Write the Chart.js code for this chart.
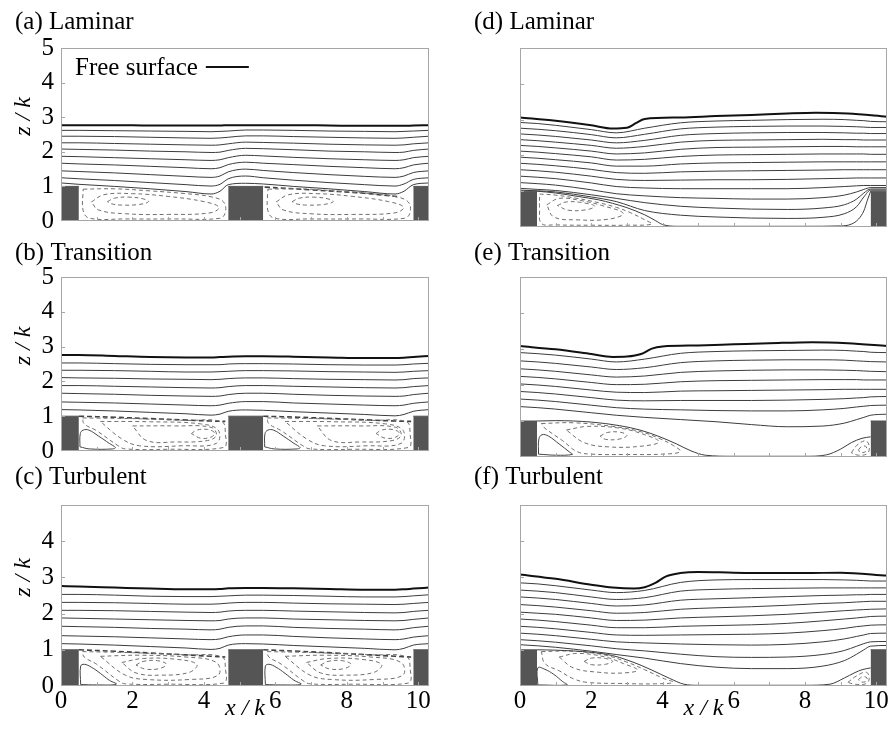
<!DOCTYPE html>
<html>
<head>
<meta charset="utf-8">
<script src="https://cdn.jsdelivr.net/npm/chart.js@4.4.0/dist/chart.umd.min.js"></script>
<style>
  body { margin: 0; background: #fff; width: 892px; height: 730px; position: relative; overflow: hidden; }
  canvas { position: absolute; }
</style>
</head>
<body>
<canvas id="ca" width="445" height="236" style="left:0;top:7px"></canvas>
<canvas id="cb" width="445" height="235" style="left:0;top:238px"></canvas>
<canvas id="cc" width="445" height="268" style="left:0;top:462px"></canvas>
<canvas id="cd" width="446" height="236" style="left:446px;top:7px"></canvas>
<canvas id="ce" width="446" height="235" style="left:446px;top:238px"></canvas>
<canvas id="cf" width="446" height="268" style="left:446px;top:462px"></canvas>
<script>
// x / k sample positions, element height k = 1
var xLeft  = [0, 0.5, 1.5, 2.5, 3.5, 4.2, 4.45, 4.68, 5.17, 5.66, 6.5, 7.5, 8.5, 9.35, 9.6, 9.86, 10.3];
var xRight = [0, 0.5, 1, 2, 2.7, 3.5, 4.5, 5.5, 6.5, 7.5, 8.5, 9.1, 9.45, 9.65, 9.84, 10.3];
var blocksLeft  = [[0, 0.5], [4.68, 5.66], [9.86, 10.3]];
var blocksRight = [[0, 0.48], [9.84, 10.3]];
var xTickVals = [0, 2, 4, 6, 8, 10];
var yTicks5 = [0, 1, 2, 3, 4, 5];
var yTicks4 = [0, 1, 2, 3, 4];
var minorX = [1, 2, 3, 4, 5, 6, 7, 8, 9, 10];
var minorY = [1, 2, 3, 4];

// (a) Laminar, two elements
var aSurf = [2.77, 2.77, 2.77, 2.76, 2.76, 2.76, 2.76, 2.77, 2.77, 2.77, 2.77, 2.76, 2.75, 2.75, 2.75, 2.76, 2.77];
var aLines = [
  [2.62, 2.62, 2.61, 2.60, 2.59, 2.58, 2.59, 2.60, 2.63, 2.63, 2.62, 2.60, 2.59, 2.58, 2.59, 2.60, 2.62],
  [2.45, 2.45, 2.44, 2.42, 2.40, 2.39, 2.40, 2.42, 2.46, 2.46, 2.44, 2.42, 2.40, 2.39, 2.40, 2.42, 2.45],
  [2.26, 2.26, 2.24, 2.22, 2.20, 2.19, 2.20, 2.23, 2.28, 2.27, 2.25, 2.22, 2.20, 2.19, 2.20, 2.23, 2.26],
  [2.08, 2.07, 2.05, 2.02, 2.00, 1.98, 1.99, 2.04, 2.10, 2.09, 2.06, 2.02, 2.00, 1.98, 1.99, 2.04, 2.08],
  [1.87, 1.86, 1.83, 1.80, 1.77, 1.75, 1.77, 1.83, 1.90, 1.88, 1.84, 1.80, 1.77, 1.75, 1.77, 1.83, 1.87],
  [1.67, 1.65, 1.62, 1.58, 1.54, 1.51, 1.54, 1.63, 1.70, 1.67, 1.63, 1.58, 1.54, 1.51, 1.54, 1.62, 1.67],
  [1.45, 1.43, 1.39, 1.34, 1.29, 1.26, 1.30, 1.42, 1.50, 1.46, 1.40, 1.34, 1.29, 1.26, 1.30, 1.40, 1.45],
  [1.25, 1.22, 1.17, 1.11, 1.05, 1.01, 1.06, 1.22, 1.30, 1.25, 1.18, 1.11, 1.05, 1.01, 1.07, 1.20, 1.25],
  [1.10, 1.06, 1.00, 0.93, 0.85, 0.78, 0.86, 1.05, 1.09, 1.07, 1.00, 0.93, 0.85, 0.78, 0.86, 1.05, 1.10]
];
var aDashed = [
  [[0.62,0.92],[1.5,0.93],[2.5,0.87],[3.5,0.79],[4.2,0.7],[4.55,0.55],[4.6,0.25],[4.45,0.08],[3.2,0.06],[1.8,0.06],[0.8,0.08],[0.62,0.3],[0.62,0.92]],
  [[0.85,0.55],[1.2,0.76],[2.0,0.79],[3.0,0.71],[4.0,0.56],[4.42,0.4],[4.2,0.24],[3.0,0.19],[1.8,0.21],[1.05,0.32],[0.85,0.55]],
  [[1.3,0.56],[1.5,0.66],[1.9,0.69],[2.3,0.64],[2.45,0.56],[2.2,0.48],[1.7,0.46],[1.4,0.5],[1.3,0.56]],
  [[5.79,0.92],[6.67,0.93],[7.67,0.87],[8.67,0.79],[9.37,0.7],[9.72,0.55],[9.77,0.25],[9.62,0.08],[8.37,0.06],[6.97,0.06],[5.97,0.08],[5.79,0.3],[5.79,0.92]],
  [[6.02,0.55],[6.37,0.76],[7.17,0.79],[8.17,0.71],[9.17,0.56],[9.59,0.4],[9.37,0.24],[8.17,0.19],[6.97,0.21],[6.22,0.32],[6.02,0.55]],
  [[6.47,0.56],[6.67,0.66],[7.07,0.69],[7.47,0.64],[7.62,0.56],[7.37,0.48],[6.87,0.46],[6.57,0.5],[6.47,0.56]]
];
var aBold = [[[5.7,0.98],[7.0,0.9],[8.5,0.8],[9.5,0.7]]];

// (b) Transition, two elements
var bSurf = [2.76, 2.76, 2.73, 2.70, 2.69, 2.69, 2.70, 2.71, 2.72, 2.72, 2.71, 2.69, 2.67, 2.67, 2.68, 2.70, 2.73];
var bLines = [
  [2.53, 2.53, 2.51, 2.49, 2.48, 2.48, 2.48, 2.50, 2.51, 2.51, 2.50, 2.48, 2.47, 2.47, 2.48, 2.50, 2.52],
  [2.32, 2.32, 2.31, 2.29, 2.27, 2.27, 2.28, 2.29, 2.31, 2.31, 2.30, 2.28, 2.27, 2.26, 2.27, 2.29, 2.31],
  [2.11, 2.10, 2.09, 2.07, 2.06, 2.05, 2.06, 2.08, 2.10, 2.10, 2.08, 2.06, 2.05, 2.04, 2.05, 2.08, 2.10],
  [1.88, 1.88, 1.86, 1.84, 1.82, 1.81, 1.82, 1.85, 1.88, 1.88, 1.86, 1.84, 1.82, 1.81, 1.82, 1.85, 1.88],
  [1.66, 1.65, 1.63, 1.60, 1.58, 1.57, 1.58, 1.62, 1.66, 1.66, 1.63, 1.60, 1.58, 1.57, 1.58, 1.62, 1.66],
  [1.41, 1.40, 1.38, 1.35, 1.32, 1.30, 1.32, 1.37, 1.42, 1.42, 1.38, 1.35, 1.32, 1.30, 1.32, 1.37, 1.41],
  [1.19, 1.18, 1.15, 1.11, 1.07, 1.03, 1.06, 1.14, 1.18, 1.17, 1.13, 1.09, 1.05, 1.01, 1.05, 1.14, 1.19]
];
var bSolid = [
  [[0.53,0.12],[0.54,0.5],[0.62,0.6],[0.78,0.6],[1.05,0.43],[1.35,0.22],[1.52,0.1],[1.45,0.06],[0.8,0.06],[0.53,0.12]],
  [[5.70,0.12],[5.71,0.5],[5.79,0.6],[5.95,0.6],[6.22,0.43],[6.52,0.22],[6.69,0.1],[6.62,0.06],[5.97,0.06],[5.70,0.12]]
];
var bDashed = [
  [[0.6,0.95],[2.0,0.93],[3.5,0.88],[4.5,0.84],[4.6,0.5],[4.55,0.1],[3.0,0.05],[1.8,0.06],[1.6,0.15],[1.0,0.58],[0.65,0.78],[0.6,0.95]],
  [[1.1,0.85],[2.5,0.84],[3.9,0.78],[4.4,0.6],[4.35,0.22],[3.4,0.15],[2.2,0.15],[1.7,0.35],[1.1,0.85]],
  [[2.0,0.72],[3.2,0.72],[4.2,0.68],[4.35,0.45],[4.1,0.3],[3.2,0.26],[2.4,0.3],[2.0,0.72]],
  [[3.65,0.5],[3.8,0.6],[4.1,0.62],[4.3,0.52],[4.2,0.4],[3.9,0.37],[3.65,0.5]],
  [[5.77,0.95],[7.17,0.93],[8.67,0.88],[9.67,0.84],[9.77,0.5],[9.72,0.1],[8.17,0.05],[6.97,0.06],[6.77,0.15],[6.17,0.58],[5.82,0.78],[5.77,0.95]],
  [[6.27,0.85],[7.67,0.84],[9.07,0.78],[9.57,0.6],[9.52,0.22],[8.57,0.15],[7.37,0.15],[6.87,0.35],[6.27,0.85]],
  [[7.17,0.72],[8.37,0.72],[9.37,0.68],[9.52,0.45],[9.27,0.3],[8.37,0.26],[7.57,0.3],[7.17,0.72]],
  [[8.82,0.5],[8.97,0.6],[9.27,0.62],[9.47,0.52],[9.37,0.4],[9.07,0.37],[8.82,0.5]]
];
var bBold = [
  [[0.5,1.0],[1.5,0.97],[2.5,0.93],[3.5,0.89],[4.2,0.86],[4.6,0.85]],
  [[5.66,1.0],[6.66,0.97],[7.66,0.93],[8.66,0.89],[9.36,0.86],[9.8,0.85]]
];

// (c) Turbulent, two elements
var cSurf = [2.76, 2.75, 2.72, 2.69, 2.67, 2.67, 2.68, 2.70, 2.71, 2.71, 2.70, 2.68, 2.66, 2.66, 2.67, 2.69, 2.72];
var cLines = [
  [2.53, 2.53, 2.51, 2.48, 2.47, 2.47, 2.48, 2.49, 2.51, 2.51, 2.50, 2.48, 2.46, 2.46, 2.47, 2.49, 2.52],
  [2.31, 2.31, 2.30, 2.28, 2.26, 2.26, 2.27, 2.29, 2.31, 2.31, 2.29, 2.27, 2.26, 2.25, 2.26, 2.28, 2.31],
  [2.09, 2.09, 2.08, 2.06, 2.04, 2.03, 2.04, 2.07, 2.09, 2.09, 2.07, 2.05, 2.03, 2.02, 2.03, 2.06, 2.09],
  [1.88, 1.87, 1.85, 1.83, 1.81, 1.80, 1.81, 1.85, 1.88, 1.88, 1.85, 1.83, 1.81, 1.80, 1.81, 1.84, 1.88],
  [1.65, 1.64, 1.62, 1.59, 1.57, 1.55, 1.57, 1.62, 1.66, 1.66, 1.62, 1.59, 1.57, 1.55, 1.57, 1.61, 1.65],
  [1.39, 1.38, 1.36, 1.33, 1.30, 1.28, 1.30, 1.36, 1.41, 1.41, 1.37, 1.33, 1.30, 1.28, 1.30, 1.35, 1.39],
  [1.17, 1.16, 1.13, 1.09, 1.05, 1.01, 1.04, 1.13, 1.17, 1.16, 1.12, 1.08, 1.04, 1.00, 1.04, 1.13, 1.17]
];
var cSolid = [
  [[0.55,0.04],[0.55,0.55],[0.65,0.6],[0.85,0.52],[1.1,0.35],[1.35,0.16],[1.55,0.05],[1.0,0.03],[0.55,0.04]],
  [[5.72,0.04],[5.72,0.55],[5.82,0.6],[6.02,0.52],[6.27,0.35],[6.52,0.16],[6.72,0.05],[6.17,0.03],[5.72,0.04]]
];
var cDashed = [
  [[0.6,0.95],[2.0,0.92],[3.5,0.86],[4.5,0.81],[4.6,0.5],[4.55,0.08],[3.0,0.05],[1.8,0.06],[1.6,0.15],[1.0,0.6],[0.65,0.8],[0.6,0.95]],
  [[1.1,0.82],[2.2,0.85],[3.5,0.8],[4.35,0.65],[4.4,0.3],[3.6,0.18],[2.4,0.18],[1.8,0.3],[1.1,0.82]],
  [[1.7,0.65],[2.3,0.76],[3.2,0.74],[3.8,0.6],[3.6,0.38],[2.8,0.3],[2.1,0.36],[1.7,0.65]],
  [[2.1,0.58],[2.3,0.68],[2.7,0.7],[2.95,0.6],[2.75,0.48],[2.35,0.47],[2.1,0.58]],
  [[5.77,0.95],[7.17,0.92],[8.67,0.86],[9.67,0.81],[9.77,0.5],[9.72,0.08],[8.17,0.05],[6.97,0.06],[6.77,0.15],[6.17,0.6],[5.82,0.8],[5.77,0.95]],
  [[6.27,0.82],[7.37,0.85],[8.67,0.8],[9.52,0.65],[9.57,0.3],[8.77,0.18],[7.57,0.18],[6.97,0.3],[6.27,0.82]],
  [[6.87,0.65],[7.47,0.76],[8.37,0.74],[8.97,0.6],[8.77,0.38],[7.97,0.3],[7.27,0.36],[6.87,0.65]],
  [[7.27,0.58],[7.47,0.68],[7.87,0.7],[8.12,0.6],[7.92,0.48],[7.52,0.47],[7.27,0.58]]
];
var cBold = [
  [[0.5,1.0],[1.5,0.96],[2.5,0.91],[3.5,0.86],[4.2,0.82],[4.6,0.8]],
  [[5.66,1.0],[6.66,0.96],[7.66,0.91],[8.66,0.86],[9.36,0.82],[9.8,0.8]]
];

// (d) Laminar, one element
var dSurfX = [0, 1, 2, 2.6, 3.0, 3.25, 3.5, 4.5, 5.5, 6.5, 7.5, 8.3, 9.2, 10.3];
var dSurf  = [3.06, 2.97, 2.84, 2.75, 2.77, 2.90, 3.02, 3.06, 3.10, 3.13, 3.17, 3.19, 3.17, 3.08];
var dLines = [
  [2.92, 2.89, 2.84, 2.72, 2.63, 2.76, 2.91, 2.96, 2.98, 3.00, 3.01, 3.00, 2.98, 2.97, 2.95, 2.94],
  [2.76, 2.73, 2.69, 2.58, 2.49, 2.59, 2.74, 2.79, 2.81, 2.82, 2.82, 2.81, 2.80, 2.79, 2.78, 2.78],
  [2.60, 2.57, 2.53, 2.43, 2.35, 2.42, 2.56, 2.61, 2.63, 2.64, 2.64, 2.63, 2.62, 2.62, 2.61, 2.61],
  [2.44, 2.41, 2.37, 2.28, 2.20, 2.25, 2.37, 2.42, 2.43, 2.44, 2.45, 2.44, 2.44, 2.43, 2.43, 2.43],
  [2.28, 2.25, 2.21, 2.12, 2.04, 2.07, 2.17, 2.22, 2.23, 2.24, 2.25, 2.25, 2.24, 2.24, 2.24, 2.24],
  [2.12, 2.09, 2.05, 1.96, 1.87, 1.89, 1.97, 2.01, 2.02, 2.03, 2.04, 2.04, 2.04, 2.04, 2.03, 2.03],
  [1.95, 1.92, 1.88, 1.79, 1.70, 1.70, 1.76, 1.79, 1.80, 1.81, 1.82, 1.82, 1.82, 1.82, 1.82, 1.82],
  [1.78, 1.75, 1.71, 1.61, 1.52, 1.50, 1.54, 1.56, 1.57, 1.58, 1.59, 1.60, 1.60, 1.60, 1.60, 1.60],
  [1.60, 1.57, 1.53, 1.42, 1.33, 1.30, 1.31, 1.32, 1.32, 1.33, 1.35, 1.36, 1.37, 1.37, 1.37, 1.37],
  [1.42, 1.39, 1.35, 1.23, 1.13, 1.09, 1.07, 1.07, 1.07, 1.07, 1.10, 1.13, 1.15, 1.16, 1.16, 1.16],
  [1.24, 1.21, 1.17, 1.04, 0.93, 0.87, 0.82, 0.80, 0.78, 0.78, 0.82, 0.89, 0.98, 1.05, 1.10, 1.10],
  [1.08, 1.05, 1.02, 0.90, 0.80, 0.68, 0.58, 0.53, 0.50, 0.49, 0.53, 0.62, 0.78, 0.95, 1.06, 1.06],
  [1.03, 1.01, 0.98, 0.84, 0.71, 0.46, 0.33, 0.28, 0.25, 0.24, 0.27, 0.37, 0.57, 0.84, 1.03, 1.03]
];
var dDivX = [0.48, 1.0, 1.65, 2.2, 2.6, 3.0, 3.5, 3.8, 4.0, 4.4, 6, 8, 9.0, 9.3, 9.5, 9.65, 9.75, 9.84];
var dDiv  = [1.0, 0.95, 0.85, 0.76, 0.66, 0.54, 0.34, 0.18, 0.07, 0.02, 0.02, 0.02, 0.03, 0.08, 0.22, 0.45, 0.75, 1.0];
var dDashed = [
  [[0.55,0.92],[1.0,0.89],[1.6,0.8],[2.2,0.68],[2.7,0.55],[3.1,0.4],[3.5,0.2],[3.7,0.08],[3.0,0.05],[2.0,0.05],[1.0,0.06],[0.6,0.1],[0.55,0.5],[0.55,0.92]],
  [[0.75,0.62],[1.1,0.8],[1.7,0.74],[2.3,0.6],[2.9,0.38],[2.5,0.22],[1.6,0.2],[0.95,0.28],[0.75,0.62]],
  [[1.05,0.6],[1.3,0.7],[1.75,0.68],[2.1,0.58],[1.85,0.48],[1.35,0.47],[1.05,0.6]]
];

// (e) Transition, one element
var eSurfX = [0, 1, 2, 2.6, 3.0, 3.4, 3.7, 4.0, 5, 6, 7, 8.2, 9.2, 10.3];
var eSurf  = [3.08, 2.99, 2.86, 2.78, 2.79, 2.86, 3.01, 3.07, 3.10, 3.13, 3.16, 3.19, 3.16, 3.08];
var eLines = [
  [2.90, 2.87, 2.83, 2.72, 2.64, 2.72, 2.88, 2.93, 2.95, 2.96, 2.97, 2.96, 2.94, 2.93, 2.91, 2.90],
  [2.67, 2.64, 2.60, 2.50, 2.43, 2.48, 2.62, 2.67, 2.69, 2.70, 2.70, 2.69, 2.67, 2.66, 2.65, 2.64],
  [2.45, 2.42, 2.38, 2.28, 2.22, 2.25, 2.35, 2.39, 2.41, 2.42, 2.42, 2.41, 2.40, 2.39, 2.38, 2.37],
  [2.24, 2.21, 2.17, 2.07, 2.01, 2.02, 2.09, 2.12, 2.13, 2.14, 2.15, 2.15, 2.15, 2.14, 2.14, 2.14],
  [2.03, 2.00, 1.96, 1.86, 1.80, 1.79, 1.83, 1.84, 1.85, 1.86, 1.87, 1.88, 1.88, 1.88, 1.88, 1.88],
  [1.82, 1.79, 1.75, 1.65, 1.58, 1.56, 1.57, 1.57, 1.57, 1.58, 1.60, 1.62, 1.64, 1.65, 1.67, 1.68],
  [1.61, 1.58, 1.54, 1.44, 1.37, 1.33, 1.31, 1.29, 1.28, 1.28, 1.31, 1.35, 1.39, 1.41, 1.43, 1.44],
  [1.40, 1.37, 1.33, 1.23, 1.16, 1.10, 1.04, 0.98, 0.90, 0.84, 0.86, 0.94, 1.04, 1.10, 1.16, 1.19]
];
var eDivX = [0.48, 1, 2, 2.8, 3.4, 3.9, 4.4, 4.8, 5.2, 6, 7, 8, 8.6, 9.0, 9.3, 9.6, 9.84];
var eDiv  = [1.0, 1.01, 0.97, 0.87, 0.74, 0.57, 0.36, 0.17, 0.05, 0.02, 0.02, 0.02, 0.06, 0.22, 0.40, 0.52, 0.56];
var eSolid = [
  [[0.52,0.08],[0.53,0.5],[0.62,0.62],[0.8,0.58],[1.1,0.36],[1.4,0.13],[1.47,0.07],[1.0,0.05],[0.52,0.08]]
];
var eDashed = [
  [[0.6,0.93],[1.5,0.95],[2.6,0.85],[3.4,0.7],[3.9,0.52],[4.3,0.32],[4.5,0.15],[4.0,0.08],[3.0,0.07],[2.0,0.08],[1.6,0.15],[1.2,0.45],[0.7,0.8],[0.6,0.93]],
  [[1.3,0.75],[1.9,0.85],[2.8,0.8],[3.5,0.62],[3.9,0.42],[3.4,0.3],[2.5,0.28],[1.8,0.4],[1.3,0.75]],
  [[2.25,0.58],[2.45,0.68],[2.8,0.69],[3.0,0.6],[2.8,0.5],[2.4,0.49],[2.25,0.58]],
  [[9.3,0.12],[9.45,0.32],[9.7,0.45],[9.8,0.3],[9.75,0.1],[9.5,0.05],[9.3,0.12]],
  [[9.5,0.2],[9.6,0.3],[9.72,0.28],[9.7,0.15],[9.55,0.13],[9.5,0.2]]
];

// (f) Turbulent, one element
var fSurfX = [0, 1, 2, 2.6, 3.2, 3.5, 3.8, 4.1, 4.5, 5, 6, 7, 8, 9, 10.3];
var fSurf  = [3.08, 2.96, 2.80, 2.72, 2.69, 2.73, 2.85, 3.03, 3.12, 3.15, 3.13, 3.12, 3.12, 3.13, 3.05];
var fLines = [
  [2.85, 2.82, 2.77, 2.65, 2.58, 2.64, 2.86, 2.93, 2.94, 2.94, 2.94, 2.93, 2.92, 2.91, 2.90, 2.90],
  [2.65, 2.62, 2.58, 2.46, 2.39, 2.44, 2.62, 2.67, 2.69, 2.70, 2.71, 2.71, 2.71, 2.71, 2.71, 2.71],
  [2.46, 2.43, 2.39, 2.28, 2.21, 2.24, 2.37, 2.41, 2.44, 2.47, 2.50, 2.51, 2.52, 2.52, 2.53, 2.53],
  [2.25, 2.22, 2.18, 2.08, 2.01, 2.03, 2.12, 2.16, 2.19, 2.23, 2.28, 2.30, 2.32, 2.33, 2.34, 2.34],
  [2.04, 2.01, 1.98, 1.88, 1.81, 1.82, 1.88, 1.91, 1.94, 1.98, 2.04, 2.08, 2.10, 2.11, 2.12, 2.13],
  [1.85, 1.82, 1.78, 1.68, 1.61, 1.61, 1.65, 1.67, 1.69, 1.73, 1.80, 1.85, 1.88, 1.90, 1.92, 1.93],
  [1.65, 1.62, 1.58, 1.48, 1.41, 1.40, 1.41, 1.42, 1.43, 1.46, 1.53, 1.59, 1.64, 1.66, 1.68, 1.69],
  [1.46, 1.43, 1.39, 1.29, 1.22, 1.19, 1.16, 1.14, 1.13, 1.15, 1.22, 1.30, 1.37, 1.41, 1.45, 1.46],
  [1.28, 1.25, 1.21, 1.11, 1.03, 0.97, 0.88, 0.81, 0.79, 0.80, 0.87, 0.98, 1.10, 1.17, 1.22, 1.23],
  [1.14, 1.11, 1.07, 0.96, 0.87, 0.77, 0.62, 0.52, 0.48, 0.48, 0.55, 0.70, 0.88, 1.00, 1.10, 1.12]
];
var fDivX = [0.48, 1, 2, 2.6, 3.0, 3.4, 3.7, 4.2, 4.6, 5, 6, 7, 8, 8.7, 9.1, 9.4, 9.6, 9.84];
var fDiv  = [1.0, 0.99, 0.93, 0.84, 0.72, 0.57, 0.44, 0.21, 0.05, 0.02, 0.02, 0.02, 0.02, 0.05, 0.22, 0.37, 0.45, 0.5];
var fSolid = [
  [[0.5,0.03],[0.5,0.5],[0.7,0.46],[0.95,0.32],[1.2,0.12],[1.32,0.03],[0.5,0.03]]
];
var fDashed = [
  [[0.6,0.95],[1.5,0.96],[2.4,0.85],[3.0,0.66],[3.5,0.45],[4.0,0.22],[4.3,0.1],[3.8,0.06],[2.8,0.07],[1.9,0.1],[1.5,0.2],[1.1,0.42],[0.7,0.62],[0.6,0.95]],
  [[1.1,0.8],[1.6,0.9],[2.4,0.8],[2.9,0.62],[3.3,0.44],[2.9,0.36],[2.2,0.38],[1.5,0.5],[1.1,0.8]],
  [[1.8,0.68],[2.0,0.77],[2.4,0.76],[2.6,0.68],[2.4,0.6],[2.0,0.59],[1.8,0.68]],
  [[9.2,0.1],[9.45,0.28],[9.72,0.38],[9.8,0.2],[9.7,0.06],[9.4,0.05],[9.2,0.1]],
  [[9.5,0.18],[9.62,0.26],[9.74,0.22],[9.7,0.12],[9.55,0.12],[9.5,0.18]]
];

var SERIF = '"Liberation Serif", "Times New Roman", serif';
Chart.defaults.font.family = SERIF;
Chart.defaults.color = '#000';

function pts(xs, zs) { return xs.map(function (x, i) { return {x: x, y: zs[i]}; }); }
function pairs(p) { return p.map(function (q) { return {x: q[0], y: q[1]}; }); }

// light frame round the plot, short inward ticks
var framePlugin = {
  id: 'frame',
  afterDatasetsDraw: function (chart) {
    var ctx = chart.ctx, a = chart.chartArea, sx = chart.scales.x, sy = chart.scales.y;
    ctx.save();
    ctx.strokeStyle = '#a6a6a6';
    ctx.lineWidth = 1;
    ctx.strokeRect(a.left + 0.5, a.top + 0.5, a.right - a.left - 1, a.bottom - a.top - 1);
    ctx.beginPath();
    minorX.forEach(function (v) {
      var px = Math.round(sx.getPixelForValue(v)) + 0.5;
      ctx.moveTo(px, a.bottom); ctx.lineTo(px, a.bottom - 4);
    });
    minorY.forEach(function (v) {
      var py = Math.round(sy.getPixelForValue(v)) + 0.5;
      ctx.moveTo(a.left, py); ctx.lineTo(a.left + 4, py);
    });
    ctx.stroke();
    ctx.restore();
  }
};

// key for the free surface: label text first, line sample after it
var keyPlugin = {
  id: 'surfaceKey',
  afterDatasetsDraw: function (chart) {
    var ctx = chart.ctx, a = chart.chartArea, ds = chart.data.datasets[0];
    var x0 = a.left + 14, y0 = a.top + 20;
    ctx.save();
    ctx.font = '25px ' + SERIF;
    ctx.fillStyle = '#000';
    ctx.textBaseline = 'middle';
    ctx.fillText(ds.label, x0, y0);
    var w = ctx.measureText(ds.label).width;
    ctx.strokeStyle = ds.borderColor;
    ctx.lineWidth = ds.borderWidth;
    ctx.beginPath();
    ctx.moveTo(x0 + w + 8, y0 - 1);
    ctx.lineTo(x0 + w + 51, y0 - 1);
    ctx.stroke();
    ctx.restore();
  }
};

var rows = [
  {tpad: 11, padB: 16, xh: 0},
  {tpad: 9,  padB: 16, xh: 0},
  {tpad: 13, padB: 0,  xh: 44}
];

function makePanel(id, p) {
  var geo = rows[p.row];
  var left = p.side === 'left';
  var ds = [];
  ds.push({label: 'Free surface', data: pts(p.surfX, p.surf), borderColor: '#111', borderWidth: 2,
           cubicInterpolationMode: 'monotone'});
  p.lines.forEach(function (z) {
    ds.push({label: '', data: pts(p.xs, z), borderColor: '#3c3c3c', borderWidth: 1, cubicInterpolationMode: 'monotone'});
  });
  if (p.divX) {
    ds.push({label: '', data: pts(p.divX, p.div), borderColor: '#3c3c3c', borderWidth: 1, cubicInterpolationMode: 'monotone'});
  }
  (p.solid || []).forEach(function (l) {
    ds.push({label: '', data: pairs(l), borderColor: '#444', borderWidth: 1, tension: 0.4});
  });
  (p.dashed || []).forEach(function (l) {
    ds.push({label: '', data: pairs(l), borderColor: '#707070', borderWidth: 1, borderDash: [4, 3], tension: 0.4});
  });
  (p.bold || []).forEach(function (l) {
    ds.push({label: '', data: pairs(l), borderColor: '#404040', borderWidth: 1.6, borderDash: [5, 3], tension: 0.4});
  });
  p.blocks.forEach(function (b) {
    ds.push({label: '', data: [{x: b[0], y: 1}, {x: b[1], y: 1}], borderColor: '#555', borderWidth: 1,
             backgroundColor: '#555', fill: 'origin'});
  });
  ds.forEach(function (d) { d.showLine = true; d.pointRadius = 0; });

  new Chart(document.getElementById(id), {
    type: 'scatter',
    data: {datasets: ds},
    options: {
      responsive: false,
      animation: false,
      events: [],
      layout: {padding: {left: left ? 15 : 28, right: left ? 16 : 5, top: 0, bottom: geo.padB}},
      plugins: {
        title: {display: true, text: p.title, align: 'start', color: '#000',
                font: {family: SERIF, size: 25, weight: 'normal'}, padding: {top: 0, bottom: geo.tpad}},
        legend: {display: false},
        tooltip: {enabled: false}
      },
      scales: {
        x: {
          type: 'linear', min: 0, max: 10.3,
          afterBuildTicks: function (s) { s.ticks = xTickVals.map(function (v) { return {value: v}; }); },
          afterFit: function (s) { s.height = geo.xh; },
          grid: {display: false, drawTicks: false},
          border: {display: false},
          ticks: {display: p.row === 2, padding: 0, color: '#000', font: {family: SERIF, size: 25},
                  maxRotation: 0, autoSkip: false},
          title: {display: p.row === 2, text: 'x / k', color: '#000',
                  font: {family: SERIF, size: 24, style: 'italic'}, padding: {top: 0, bottom: 7}}
        },
        y: {
          type: 'linear', min: 0, max: 5,
          afterBuildTicks: function (s) { s.ticks = p.yTicks.map(function (v) { return {value: v}; }); },
          afterFit: function (s) { s.width = 46; },
          grid: {display: false, drawTicks: false},
          border: {display: false},
          ticks: {display: left, padding: 7, color: '#000', font: {family: SERIF, size: 25}},
          title: {display: left, text: '\u00a0\u00a0\u00a0\u00a0\u00a0\u00a0z / k', color: '#000',
                  font: {family: SERIF, size: 24, style: 'italic', lineHeight: 0.75}, padding: 0}
        }
      }
    },
    plugins: p.legend ? [framePlugin, keyPlugin] : [framePlugin]
  });
}

makePanel('ca', {title: '(a) Laminar', row: 0, side: 'left', legend: true, xs: xLeft, surfX: xLeft, surf: aSurf,
  lines: aLines, dashed: aDashed, bold: aBold, blocks: blocksLeft, yTicks: yTicks5});
makePanel('cb', {title: '(b) Transition', row: 1, side: 'left', xs: xLeft, surfX: xLeft, surf: bSurf,
  lines: bLines, solid: bSolid, dashed: bDashed, bold: bBold, blocks: blocksLeft, yTicks: yTicks5});
makePanel('cc', {title: '(c) Turbulent', row: 2, side: 'left', xs: xLeft, surfX: xLeft, surf: cSurf,
  lines: cLines, solid: cSolid, dashed: cDashed, bold: cBold, blocks: blocksLeft, yTicks: yTicks4});
makePanel('cd', {title: '(d) Laminar', row: 0, side: 'right', xs: xRight, surfX: dSurfX, surf: dSurf,
  lines: dLines, divX: dDivX, div: dDiv, dashed: dDashed, blocks: blocksRight, yTicks: yTicks5});
makePanel('ce', {title: '(e) Transition', row: 1, side: 'right', xs: xRight, surfX: eSurfX, surf: eSurf,
  lines: eLines, divX: eDivX, div: eDiv, solid: eSolid, dashed: eDashed, blocks: blocksRight, yTicks: yTicks5});
makePanel('cf', {title: '(f) Turbulent', row: 2, side: 'right', xs: xRight, surfX: fSurfX, surf: fSurf,
  lines: fLines, divX: fDivX, div: fDiv, solid: fSolid, dashed: fDashed, blocks: blocksRight, yTicks: yTicks5});
</script>
</body>
</html>
